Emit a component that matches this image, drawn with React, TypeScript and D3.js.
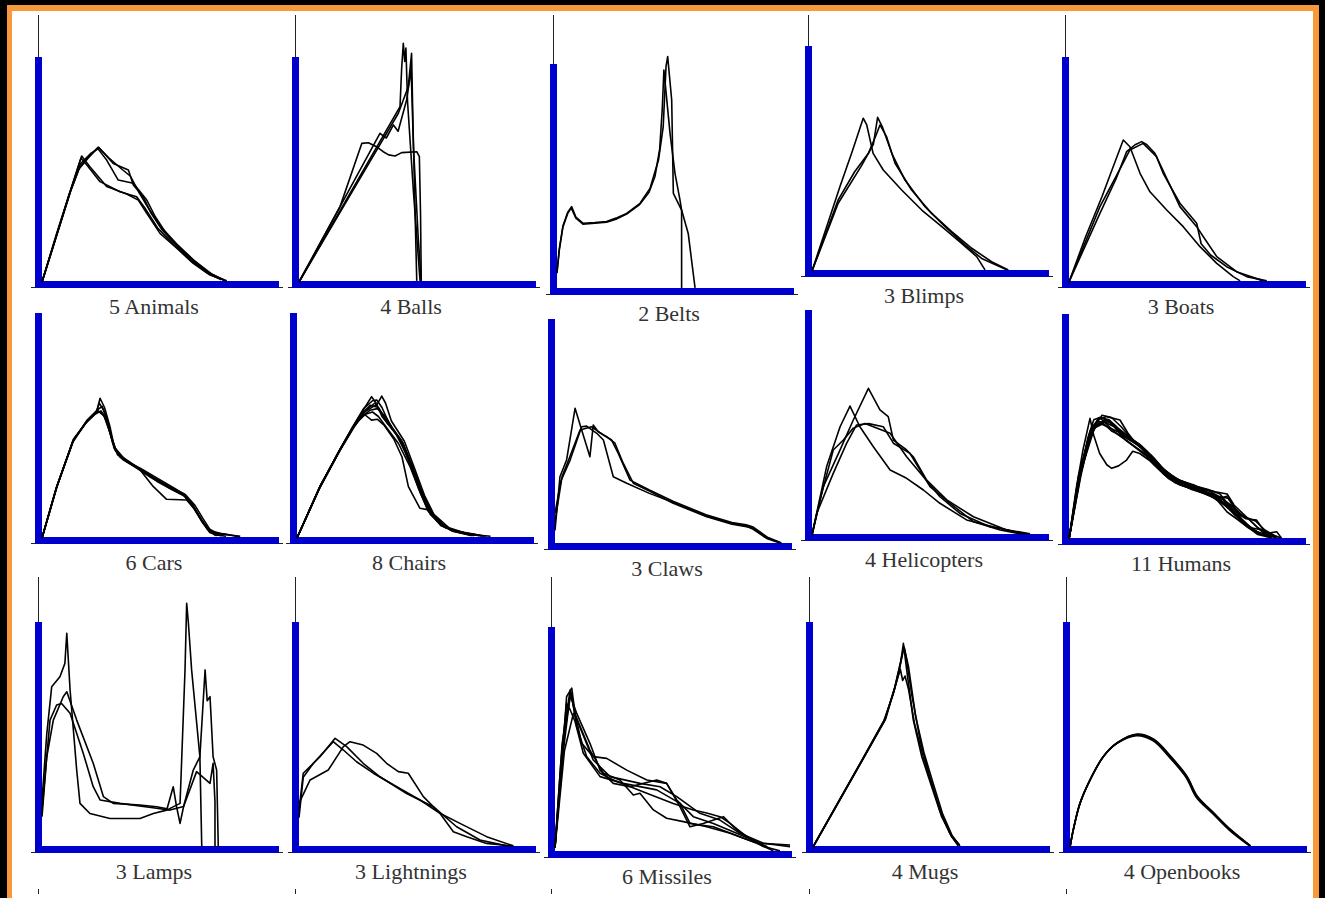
import React, { useEffect, useRef } from 'react';
import * as d3 from 'd3';

type Pt = [number, number];

// panel titles, in reading order
const categories = [
  '5 Animals', '4 Balls', '2 Belts', '3 Blimps', '3 Boats',
  '6 Cars', '8 Chairs', '3 Claws', '4 Helicopters', '11 Humans',
  '3 Lamps', '3 Lightnings', '6 Missiles', '4 Mugs', '4 Openbooks',
];

// curves: x = 0..100 along the axis, y = 0..100 up to the top of the axis
const animals: Pt[][] = [
  [[0, 0], [6.2, 21.6], [12.6, 42.4], [16.8, 56], [20.3, 51.2], [27.4, 42.4], [35.9, 39.1], [40.8, 36.4], [44.4, 30.5], [50, 21.6], [57.1, 15], [64.1, 8.3], [71.2, 3.1], [78.3, 0.5]],
  [[0, 0], [6.5, 22], [12.8, 43], [16.5, 55], [19, 52], [24.6, 44.6], [33, 40.1], [40.1, 37.9], [43.5, 33], [49, 24], [56, 16.5], [63, 9.5], [70, 4], [76, 1]],
  [[0, 0], [6, 20], [12, 40], [16, 51], [20, 56], [23.9, 60], [30.2, 52.7], [36.6, 49.8], [38.7, 43.1], [42.9, 37.9], [46, 31], [51, 23], [58, 15.5], [65, 9], [72, 3.5], [77.5, 0.5]],
  [[0, 0], [5.8, 19.5], [11.5, 39], [15.5, 50], [19.5, 55], [23.5, 59.5], [27.4, 54.2], [32.3, 45.3], [38.7, 43.9], [44.4, 36.4], [48, 29], [53, 21], [59, 14], [66, 7.5], [73, 2.5], [78, 0.5]],
  [[0, 0], [6.3, 21], [12.3, 41], [16.3, 52.5], [20.5, 57], [24.2, 59.5], [28.5, 55], [34, 50], [37.5, 47], [41, 40], [45, 33], [50, 25], [57, 17], [64, 10], [71, 4], [77, 1]],
];

const balls: Pt[][] = [
  [[0, 0], [42.8, 77.9], [43.5, 95], [44.2, 106.1], [44.8, 98], [45.3, 104], [46, 80], [48.5, 40], [51.3, 0.5]],
  [[0, 0], [42.1, 75], [46.3, 86.8], [47.7, 101.6], [48.3, 70], [49.2, 30], [49.9, 0.5]],
  [[0, 0], [34.3, 66.1], [37, 64], [40, 69.8], [42, 67], [45.6, 80.9], [46.7, 88.6], [47.5, 95], [48.5, 60], [50.5, 20], [51.8, 0.5]],
  [[0, 0], [17.4, 33.5], [26.6, 61.6], [29.4, 61.9], [32.9, 60.1], [35.7, 57.9], [38, 56.5], [40.7, 56], [43.5, 57.5], [49.9, 57.9], [51, 55.7], [51.5, 30], [51.8, 0.5]],
];

const belts: Pt[][] = [
  [[0, 8], [1, 18], [2.5, 28], [4.5, 34], [6.2, 36.6], [8, 32], [11.1, 29.2], [16, 29.5], [21, 30], [25, 31.5], [29.5, 33.6], [35.2, 38.1], [39.4, 44.7], [43, 57.3], [45, 72.1], [46.2, 98.9], [46.9, 103.3], [48.6, 84], [49.3, 42.5], [52.8, 35.1], [55.6, 24.7], [58.5, 0.5]],
  [[0, 7], [1, 17.5], [2.5, 27.5], [4.5, 33.5], [6, 36], [8, 31.5], [11, 28.8], [16, 29.2], [21, 29.7], [25, 31], [29.5, 33.3], [35, 37.5], [39, 43], [41.5, 50], [43.5, 62], [44.6, 80], [45.3, 97.3], [47.9, 69.2], [50, 51.4], [52.1, 39.6], [52.8, 35], [52.8, 0.5]],
];

const blimps: Pt[][] = [
  [[0, 0], [6, 19], [12, 38], [17, 53], [21.7, 67.9], [23.2, 64.9], [25.9, 52.3], [30.2, 44.9], [38, 36], [46.5, 27.1], [55, 19.7], [63.4, 12.3], [69.8, 6.4], [73.3, 0.5]],
  [[0, 0], [11.1, 30.1], [21, 46.8], [26, 56.3], [27.8, 68.3], [29.8, 64.1], [33.8, 52.3], [39.4, 40.4], [47.9, 28.6], [56.4, 19.7], [64.8, 11.6], [71.9, 5.6], [82.5, 0.5]],
  [[0, 0], [11.1, 31.6], [18, 44], [23.9, 52.3], [27, 60], [28.8, 64.9], [31.6, 59.7], [35.2, 47.9], [42.2, 36], [50.7, 25.6], [59.2, 17.5], [67.7, 10.1], [76.1, 4.1], [83.2, 0.5]],
];

const boats: Pt[][] = [
  [[0, 0], [7, 20], [14, 38], [19, 52], [23, 63.1], [25.8, 60.1], [30.1, 48.3], [34.3, 40.1], [41.4, 32], [48.4, 24.6], [55.5, 15.7], [62.6, 8.3], [69.6, 2.4], [72.5, 0.5]],
  [[0, 0], [13.1, 30.5], [20, 46], [24.4, 57.9], [28, 61], [30.8, 62.4], [33, 61], [36.4, 57.2], [40.7, 47.6], [47, 33.5], [54.1, 24.6], [57, 20], [62.6, 11.3], [71, 4.6], [82.3, 0.5]],
  [[0, 0], [13.1, 33.5], [20, 47], [25.8, 58.7], [31.4, 61.6], [37.1, 55.7], [39.9, 48.3], [47, 35], [54.1, 26.1], [56, 17], [60, 12], [66.8, 6.8], [75.3, 2.4], [83.8, 0.5]],
];

const cars: Pt[][] = [
  [[0, 0], [6.2, 22.8], [13.3, 43.6], [18.9, 51.7], [23.2, 56.1], [24.6, 62.1], [26.5, 58], [28.8, 49.5], [30.9, 39.1], [34.4, 34.7], [41.5, 30.2], [48.6, 25.8], [54.2, 22.1], [59.9, 19.1], [64.1, 13.9], [67.7, 8], [70.5, 3.6], [75.4, 2.1], [83.9, 0.5]],
  [[0, 0], [6, 22], [13, 42.5], [19, 52], [23.5, 56.5], [26, 55], [28.5, 48], [31, 40], [35, 35], [41, 31], [47.2, 22.8], [52.8, 17.2], [61.3, 16.9], [64.5, 13], [68, 7], [71, 2.5], [76, 1]],
  [[0, 0], [6.5, 23.5], [13.5, 44], [18.5, 51], [22.5, 55], [25, 56.5], [27.5, 52], [29.5, 44], [32, 37], [37, 33.5], [43, 29.5], [49, 25], [55, 21.5], [60.5, 18.5], [64.5, 13], [68, 7], [71, 3], [74, 1]],
  [[0, 0], [6.2, 22.5], [13, 43], [18.7, 51.3], [23, 56], [24.2, 60], [26, 57], [28.3, 50], [30.5, 40], [34, 36], [41, 31], [48, 26.5], [54, 22.8], [60.5, 19.5], [65, 12.5], [68.5, 6.5], [72, 2.5], [80, 1.3]],
  [[0, 0], [6, 22], [13.2, 43], [19, 52.3], [23.5, 57], [25.5, 58.5], [27.5, 53], [30, 42], [33, 36], [39, 32], [46, 27], [53, 23], [59, 20], [63.5, 15.5], [67, 9], [70, 4], [73, 1.5], [78, 0.8]],
  [[0, 0], [6.4, 23], [13.4, 44], [19.2, 52], [23.8, 56.5], [26.5, 54], [29, 46], [31.5, 38.5], [36, 34], [42, 30.8], [49, 26.5], [55, 22.8], [61, 19], [64.8, 14.5], [68.3, 8.5], [71, 4], [74, 2], [84, 0.8]],
];

const chairs: Pt[][] = [
  [[0, 0], [9.7, 22.8], [18.2, 39.1], [23.9, 49.5], [28.1, 56.9], [31.6, 62.8], [33.5, 60], [36, 54], [39.4, 49.5], [45, 42.1], [49.3, 30.2], [53.5, 18.4], [57.8, 9.5], [64.8, 3.6], [71.9, 2.1], [78.9, 0.8]],
  [[0, 0], [9.5, 22], [18, 38.5], [24, 49], [28.5, 56], [32.3, 58.4], [34, 59.5], [35.9, 63.1], [37.5, 60], [40, 52], [45.5, 43], [49.8, 31], [54, 19], [58, 10.5], [65, 4], [72, 2], [77, 1]],
  [[0, 0], [9.8, 23], [18.4, 39.5], [24.2, 50], [28.5, 55], [31.6, 52.4], [34, 52.8], [37, 50], [41, 44], [44.5, 36], [47.2, 22.8], [52.1, 13.2], [56.4, 12.4], [60, 7], [66, 3], [74, 1]],
  [[0, 0], [9.6, 22.5], [18, 39], [23.8, 49.8], [28.2, 57.5], [32, 61], [33.8, 61.3], [36, 58], [39, 51], [44.5, 43], [48.8, 32], [53, 20], [57.5, 10.5], [63, 4.5], [70, 2.2], [78, 1]],
  [[0, 0], [9.9, 23.2], [18.5, 39.8], [24.5, 50.5], [29, 55], [32, 56], [34.5, 54], [38, 49], [43, 42], [48, 31.5], [52.5, 19.5], [56.5, 10.5], [62, 5], [69, 2.5], [75, 1]],
  [[0, 0], [9.4, 21.8], [17.8, 38.6], [23.5, 49], [27.8, 55.5], [31, 59], [34.5, 58], [38.5, 51], [44, 43.5], [48.5, 33], [52.8, 21], [57, 11], [63, 5], [71, 2.3], [80, 0.8]],
  [[0, 0], [10, 23.5], [18.7, 40], [24.8, 51], [29.5, 57], [33, 60], [35, 57], [38, 51.5], [43, 45], [47.5, 34], [51.5, 22], [55.5, 12], [61, 5.5], [68, 3], [76, 1.5]],
  [[0, 0], [9.7, 22.6], [18.1, 39], [23.6, 48.8], [27.5, 54], [31, 56.8], [34, 57.5], [37.5, 54], [41.5, 47], [46, 38], [50.5, 26], [54.5, 15], [59, 8], [66, 3], [74, 1.5], [82, 0.8]],
];

const claws: Pt[][] = [
  [[0, 6], [2.1, 29.9], [4.9, 37.3], [8.5, 60.3], [11.5, 50], [14.8, 38.8], [16.2, 52.9], [18.3, 49.9], [21.9, 47.7], [25.4, 44.8], [28.9, 35.9], [33.2, 27], [40, 23.5], [50.1, 18.1], [64.3, 12.1], [75, 8.8], [81.2, 7.7], [84, 7], [89.7, 2.5], [95.3, 0.5]],
  [[0, 13.6], [2.5, 28], [6.4, 37.3], [11.3, 52.1], [13.4, 52.4], [17.7, 49.2], [20.5, 46.2], [24.7, 29.9], [30.4, 27], [40, 22.5], [50, 18.5], [64, 12.5], [75, 9.2], [81, 8], [84, 6.5], [89, 3], [95, 0.8]],
  [[0, 10], [3, 30], [6, 38], [10.6, 50.7], [15.5, 52.1], [20.5, 48.4], [24, 46.2], [26.8, 40.3], [31.8, 28.4], [40, 24], [50, 19], [64, 13], [75, 9.5], [81, 8.5], [84, 7.5], [90, 3], [96, 0.5]],
];

const helicopters: Pt[][] = [
  [[0, 0], [4.8, 21.5], [11.9, 37.8], [17.5, 51.1], [23.9, 65.2], [28.8, 55.6], [32.3, 52.6], [34.5, 42.2], [40.1, 37.8], [42.9, 34.8], [48.6, 24.4], [57.1, 15.6], [68.4, 8.1], [82.5, 2.2], [91, 0.5]],
  [[0, 0], [6.2, 30.4], [11.9, 48.1], [16.1, 57.3], [20.3, 48.1], [26, 39.2], [33.1, 28.9], [40.1, 25.2], [47.2, 20], [54.2, 14.1], [65.5, 6.7], [76.8, 3.7], [89.5, 0.5]],
  [[0, 0], [3.4, 15.6], [9, 37.8], [13.3, 42.2], [17.5, 47.5], [22.5, 49.6], [26, 48.1], [33.1, 45.2], [40.1, 34.8], [47.2, 25.9], [54.2, 17], [62.7, 9.6], [75.4, 3.7], [92.4, 0.5]],
  [[0, 0], [2, 9.6], [9, 27.4], [14.7, 40.8], [18.9, 48.9], [24, 49.5], [30.2, 48.1], [34.5, 40.8], [41.5, 36.3], [50, 21.5], [58.5, 14.1], [68.4, 5.9], [79.7, 2.2], [88.1, 0.5]],
];

const humans: Pt[][] = [
  [[0, 0], [4, 25], [8, 45], [10.5, 53], [13, 54], [16, 51], [20, 47], [24, 44], [28, 41], [32, 38], [36, 33], [40, 29], [45, 25], [50, 23], [56, 21], [62, 18], [66, 15], [70, 12], [74, 8], [78, 4], [82, 2], [88, 0.5]],
  [[0, 0], [3, 22], [6, 40], [8.9, 53.6], [10.5, 46], [13, 38], [16, 33], [18.1, 31.4], [21, 32.5], [24.4, 35.1], [27, 39], [30, 38], [34, 35], [38, 31], [42, 27], [47, 24], [53, 22], [60, 19], [66, 16], [70, 11], [75, 6], [80, 2], [86, 0.5]],
  [[0, 0], [5, 28], [9, 46], [12, 53], [16, 54.4], [21.6, 52.9], [25, 47], [28, 43], [32, 40], [36, 35], [40, 30], [45, 26], [50, 24], [56, 22], [62, 19], [67, 15], [72, 10], [76, 6], [80, 3], [85, 1]],
  [[0, 0], [5, 30], [10, 48], [13, 52], [17, 52], [20, 49], [24, 45], [29, 42], [34, 37], [39, 31], [44, 27], [50, 24], [57, 21], [63, 19], [68, 18], [70, 14], [73, 9], [78, 4], [84, 1]],
  [[0, 0], [4, 27], [9, 47], [14, 55], [18, 54], [22, 50], [27, 44], [31, 41], [35, 36], [40, 29], [46, 25], [52, 22], [58, 20], [64, 18], [66.8, 19], [70, 14], [72, 11], [75, 9], [79.5, 8.4], [83, 3], [88, 1]],
  [[0, 0], [5, 31], [10, 49], [15, 53], [19, 51], [23, 46], [28, 43], [33, 39], [38, 33], [43, 28], [49, 25], [55, 23], [60, 21], [65, 18], [69, 13], [73, 8], [77, 5], [82, 4], [86, 1]],
  [[0, 0], [5, 29], [10, 50], [12, 52.5], [15, 51], [18, 48], [22, 46], [27, 44], [31, 40], [36, 34], [42, 28], [48, 24], [54, 22], [61, 20], [66, 17], [70, 14], [74, 10], [79, 8], [83, 4], [88, 1]],
  [[0, 0], [4, 26], [8, 44], [12, 51], [16, 53], [20, 50], [24, 46], [30, 42], [34, 38], [39, 32], [45, 27], [52, 24], [59, 22], [64, 20], [67, 16], [71, 12], [76, 9], [80, 5], [85, 2], [90, 0.5]],
  [[0, 0], [5, 30], [11, 50], [15, 52], [19, 50], [24, 44], [29, 40], [35, 35], [41, 29], [47, 26], [53, 24], [58, 21], [63, 17], [67, 12], [71, 9], [76, 5], [81, 2], [88, 3.2], [90, 0.5]],
  [[0, 0], [4, 28], [9, 48], [13, 54], [17, 53], [21, 49], [26, 45], [31, 41], [36, 36], [41, 30], [47, 26], [54, 23], [62, 21], [67, 20], [70, 15], [74, 11], [78, 7], [82, 3], [87, 1]],
  [[0, 0], [5, 32], [10, 49], [14, 51], [18, 49], [22, 47], [26, 44], [30, 41], [35, 37], [40, 31], [46, 26], [52, 23], [58, 21], [64, 17], [69, 12], [74, 7], [78, 4], [84, 1.5]],
];

const lamps: Pt[][] = [
  [[0, 20.9], [2, 50], [4.1, 71.2], [7.6, 75.7], [9.7, 81.6], [10.5, 95], [11.9, 69.8], [14.7, 34.2], [16.1, 19.4], [20.3, 14.9], [28.8, 12.7], [41.5, 12.7], [47.2, 14.9], [52.8, 16.4], [58.5, 19.4], [60.6, 78.7], [61.3, 108.3], [62, 100], [63.4, 78.7], [66.9, 40.1], [67.7, 0]],
  [[0, 13.5], [2, 40], [4.8, 56.4], [9, 66.8], [10.5, 69], [14.7, 56.4], [21.7, 37.2], [26, 22.4], [30.2, 19.4], [41.5, 18.7], [48.6, 17.9], [53, 17], [55.6, 26.8], [57, 18], [58.5, 10.5], [60, 18], [64.1, 34.2], [66.9, 40.1], [69.1, 78.7], [70, 65], [71.2, 66.8], [72.5, 40.1], [74, 34.2], [74.7, 0]],
  [[0, 16.4], [3.4, 56.4], [6.2, 63.1], [8.3, 63.8], [11.9, 59.4], [17.5, 41.6], [21.7, 26.8], [24.6, 20.9], [33.1, 19.4], [48.6, 17.2], [54.2, 16.4], [60, 18], [65.5, 33.5], [71.2, 28.3], [72.5, 37.2], [73.3, 20], [73.3, 0]],
];

const lightnings: Pt[][] = [
  [[0, 16.4], [1.8, 32.8], [8.9, 40.1], [15.3, 48.3], [20.2, 44.6], [27.2, 37.2], [34.3, 31.2], [45.6, 23.8], [56.9, 17.9], [66.8, 9], [76.7, 3.1], [88, 0.5]],
  [[0, 19.4], [4.7, 29.8], [12.4, 34.2], [18.8, 44.6], [21.6, 46.8], [27.2, 45.3], [32.9, 41.6], [37.1, 37.2], [42.1, 33.5], [46.3, 32.8], [52.7, 22.4], [59.7, 15], [65.4, 6.8], [71.1, 4.6], [79.5, 1.6], [90.8, 0.4]],
  [[0, 13], [1.8, 31], [6.1, 37.2], [14.5, 46.8], [18.8, 43.1], [24.4, 37.9], [31.5, 32.8], [41.4, 26.8], [51.3, 20.9], [59.7, 15], [68.2, 10.5], [79.5, 4.6], [90.8, 0.5]],
];

const missiles: Pt[][] = [
  [[0, 3], [2.8, 36.4], [4.9, 69], [7.1, 72.8], [8.5, 61.6], [11.3, 48.3], [16.2, 42.4], [21.9, 41.6], [30.4, 36.4], [38.9, 32], [47.3, 30.5], [51.6, 23.1], [58.6, 15.7], [67.1, 12.7], [77, 8.3], [86.9, 3.9], [99.6, 3.1]],
  [[0, 2], [3, 40], [6.4, 69.8], [9.2, 61.6], [14.8, 48.3], [19.1, 36.4], [24.7, 30.5], [31.8, 29], [43.1, 32], [47.3, 30.5], [53, 20.1], [57.2, 11.2], [62.8, 12.7], [71.3, 15.7], [77, 9.8], [88.3, 2.4], [95.3, 0.5]],
  [[0, 2], [4, 45], [7.8, 61.6], [9, 60], [14.8, 45.3], [20.5, 35], [27.5, 32], [33.2, 25.3], [36, 26.1], [41.7, 18.7], [47.3, 15], [54.4, 13.5], [64.3, 11.2], [74.2, 8.3], [85.5, 3.9], [92.5, 0.5]],
  [[0, 2], [3.5, 50], [6.8, 71], [9.2, 55.7], [13.4, 42.4], [19.1, 35], [24.7, 32], [38.9, 26.1], [50.1, 21.6], [58.6, 18.7], [64.3, 17.3], [69.9, 15.7], [74.2, 12.7], [81.2, 6.8], [91.1, 1.6]],
  [[0, 2], [2.5, 40], [4.9, 66.1], [6.5, 63], [8.5, 58], [12, 43.9], [19.1, 33.5], [28.9, 30.5], [43.1, 27.6], [53, 21.6], [57.2, 12.7], [67.1, 11.2], [78.4, 6.8], [89.7, 2.4]],
  [[0, 2], [3, 48], [6.4, 72], [8.8, 60], [16.2, 40.9], [23.3, 33.5], [36, 30.5], [44.5, 29], [51.6, 24.6], [61.4, 17.2], [69.9, 14.2], [78.4, 8.3], [88.3, 3.9], [99.6, 2.4]],
];

const mugs: Pt[][] = [
  [[0, 0], [10, 18.5], [20, 37], [30.5, 56.4], [34.7, 71.2], [37.3, 83.1], [38.3, 90.5], [39.7, 78.7], [42.5, 56.4], [46.1, 40.1], [50.3, 26.8], [54.5, 13.5], [58.8, 4.6], [62.3, 0.5]],
  [[0, 0], [10, 18.7], [20, 37.3], [30, 56], [34, 68], [36.5, 78], [37.8, 86], [38.8, 88], [40.5, 80], [43.5, 58], [47, 42], [51, 28], [55, 14.5], [59, 5], [62, 0.8]],
  [[0, 0], [10, 18.3], [20, 36.8], [30.8, 57], [35, 72], [37, 79], [38, 74], [39, 76], [40.5, 70], [43, 55], [46.7, 40], [50.5, 27.5], [54.7, 14], [58.5, 5], [61.5, 0.5]],
  [[0, 0], [10, 18.6], [20, 37.1], [30.3, 56.6], [34.5, 70], [37.6, 84], [38.6, 89], [39.8, 82], [41.8, 68], [45.5, 47], [49.5, 31], [53.8, 16], [58, 6], [62, 1]],
];

const openbooks: Pt[][] = [
  [[0, 0], [1.4, 7.6], [4.2, 19.4], [8.5, 29.8], [14.1, 40.1], [19.8, 46.1], [28.3, 49.8], [35.3, 47.6], [42.4, 40.1], [49.4, 31.2], [53.7, 22.4], [60.7, 15], [67.8, 7.6], [76.3, 0.5]],
  [[0, 0], [1.5, 8], [4.4, 19.8], [8.7, 30.2], [14.3, 40.5], [20, 46.4], [28.5, 50.2], [35.5, 47.9], [42.6, 40.4], [49.6, 31.4], [53.9, 22.7], [60.9, 15.2], [68, 7.8], [76.5, 0.5]],
  [[0, 0], [1.3, 7.3], [4.1, 19], [8.3, 29.5], [13.9, 39.8], [19.6, 45.8], [28.1, 49.5], [35.1, 47.3], [42.2, 39.8], [49.2, 30.9], [53.5, 22.1], [60.5, 14.8], [67.6, 7.4], [76.1, 0.5]],
  [[0, 0], [1.4, 7.7], [4.3, 19.6], [8.6, 30], [14.2, 40.3], [19.9, 46.2], [28.4, 50], [35.4, 47.8], [42.5, 40.2], [49.5, 31.3], [53.8, 22.5], [60.8, 15.1], [67.9, 7.7], [76.4, 0.5]],
];

const seriesByPanel = [
  animals, balls, belts, blimps, boats,
  cars, chairs, claws, helicopters, humans,
  lamps, lightnings, missiles, mugs, openbooks,
];
const smoothPanels = ['4 Openbooks'];

// where each scanned panel sits (left of the y-axis bar, bottom of the x-axis bar)
const layout = [
  { x0: 35, yb: 288 }, { x0: 292, yb: 288 }, { x0: 550, yb: 295 }, { x0: 805, yb: 277 }, { x0: 1062, yb: 288 },
  { x0: 35, yb: 544 }, { x0: 290, yb: 544 }, { x0: 548, yb: 550 }, { x0: 805, yb: 541 }, { x0: 1062, yb: 545 },
  { x0: 35, yb: 853 }, { x0: 292, yb: 853 }, { x0: 548, yb: 858 }, { x0: 806, yb: 853 }, { x0: 1063, yb: 853 },
];

const W = 1325;
const H = 898;
const BLUE = '#0000cc';
const SERIF = "'Liberation Serif', 'Times New Roman', Tinos, 'DejaVu Serif', serif";

export default function App() {
  const ref = useRef<SVGSVGElement>(null);

  useEffect(() => {
    const svg = d3.select(ref.current);
    svg.selectAll('*').remove();

    // frame
    svg.append('rect').attr('width', W).attr('height', H).attr('fill', '#000');
    svg.append('rect').attr('x', 7).attr('y', 5).attr('width', 1312).attr('height', H).attr('fill', '#f7993a');
    svg.append('rect').attr('x', 12).attr('y', 11).attr('width', 1301).attr('height', H).attr('fill', '#fff');

    categories.forEach((label, i) => {
      const { x0, yb } = layout[i];
      const row = Math.floor(i / 5);
      const g = svg.append('g');

      const x = d3.scaleLinear().domain([0, 100]).range([x0 + 7, x0 + 243]);
      const y = d3.scaleLinear().domain([0, 100]).range([yb - 6, yb - 231]);

      // thin lines from the scan
      if (row !== 1) {
        g.append('line')
          .attr('x1', x0 + 3.5).attr('x2', x0 + 3.5)
          .attr('y1', row === 0 ? 15 : 577).attr('y2', yb - 231)
          .attr('stroke', '#222').attr('stroke-width', 1);
      }
      if (row === 2) {
        g.append('line')
          .attr('x1', x0 + 3.5).attr('x2', x0 + 3.5)
          .attr('y1', 889).attr('y2', 894)
          .attr('stroke', '#222').attr('stroke-width', 1);
      }
      g.append('line')
        .attr('x1', x0 - 4).attr('x2', x0 + 248)
        .attr('y1', yb - 0.5).attr('y2', yb - 0.5)
        .attr('stroke', '#222').attr('stroke-width', 1);

      // blue axes
      g.append('rect')
        .attr('x', x0).attr('y', yb - 231)
        .attr('width', 7).attr('height', 231)
        .attr('fill', BLUE);
      g.append('rect')
        .attr('x', x0).attr('y', yb - 7)
        .attr('width', 244).attr('height', 7)
        .attr('fill', BLUE);

      const line = d3.line<Pt>()
        .x((d) => x(d[0]))
        .y((d) => y(d[1]))
        .curve(smoothPanels.includes(label) ? d3.curveCatmullRom : d3.curveLinear);

      g.selectAll('path.curve')
        .data(seriesByPanel[i])
        .enter()
        .append('path')
        .attr('class', 'curve')
        .attr('d', (d) => line(d))
        .attr('fill', 'none')
        .attr('stroke', '#000')
        .attr('stroke-width', 1.6)
        .attr('stroke-linejoin', 'round');

      g.append('text')
        .attr('x', x0 + 119)
        .attr('y', yb + 26)
        .attr('text-anchor', 'middle')
        .style('font-family', SERIF)
        .style('font-size', '22px')
        .attr('fill', '#333')
        .text(label);
    });
  }, []);

  return (
    <svg
      ref={ref}
      width={W}
      height={H}
      style={{ position: 'absolute', left: 0, top: 0, display: 'block' }}
    />
  );
}
